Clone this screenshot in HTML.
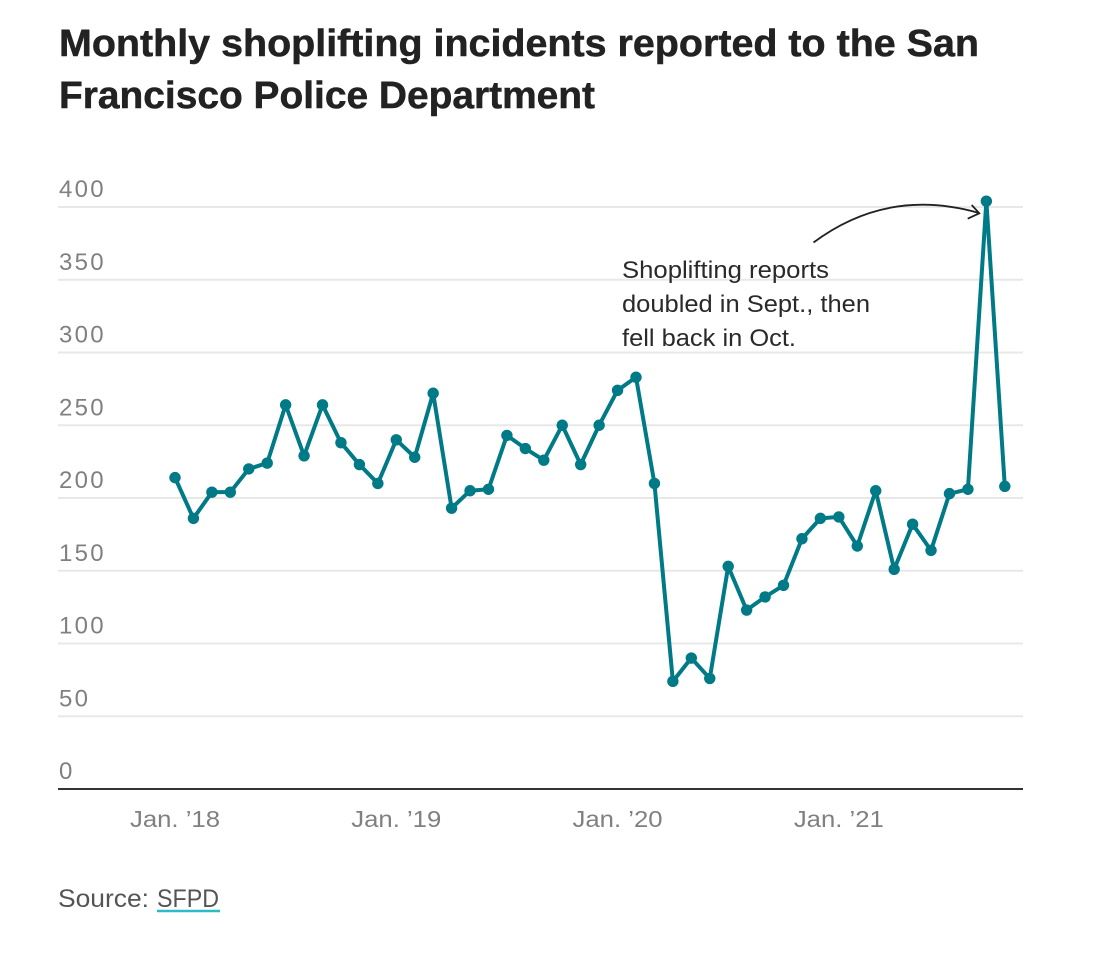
<!DOCTYPE html>
<html lang="en">
<head>
<meta charset="utf-8">
<title>Monthly shoplifting incidents</title>
<style>
html,body{margin:0;padding:0;background:#fff;width:1094px;height:966px;overflow:hidden}
svg{display:block}
text{font-family:"Liberation Sans",sans-serif}
</style>
</head>
<body>
<svg id="chart" width="1094" height="966" viewBox="0 0 1094 966" xmlns="http://www.w3.org/2000/svg">
  <text x="59" y="56" font-size="38" font-weight="700" fill="#222" stroke="#222" stroke-width="0.5" textLength="920" lengthAdjust="spacingAndGlyphs">Monthly shoplifting incidents reported to the San</text>
  <text x="59" y="108" font-size="38" font-weight="700" fill="#222" stroke="#222" stroke-width="0.5" textLength="536" lengthAdjust="spacingAndGlyphs">Francisco Police Department</text>
  <g id="grid"></g>
  <g id="y-labels"></g>
  <g id="x-labels"></g>
  <line x1="58" x2="1023" y1="789" y2="789" stroke="#333" stroke-width="2"></line>
  <path id="series-line" fill="none" stroke="#007a87" stroke-width="4" stroke-linejoin="round"></path>
  <g id="series-points"></g>
  <g>
    <text x="622" y="278" font-size="24" fill="#2a2a2a" textLength="207" lengthAdjust="spacingAndGlyphs">Shoplifting reports</text>
    <text x="622" y="312" font-size="24" fill="#2a2a2a" textLength="248" lengthAdjust="spacingAndGlyphs">doubled in Sept., then</text>
    <text x="622" y="346" font-size="24" fill="#2a2a2a" textLength="174" lengthAdjust="spacingAndGlyphs">fell back in Oct.</text>
    <path d="M813.5 242.5 Q888 187 979 213" fill="none" stroke="#222" stroke-width="1.8"></path>
    <path d="M971.7 205 L979.3 213.3 L967.7 218.7" fill="none" stroke="#222" stroke-width="1.8"></path>
  </g>
  <text x="58" y="907" font-size="25" fill="#555" textLength="91" lengthAdjust="spacingAndGlyphs">Source:</text>
  <text x="157" y="907" font-size="25" fill="#555" textLength="62" lengthAdjust="spacingAndGlyphs">SFPD</text>
  <line x1="157" x2="220" y1="911" y2="911" stroke="#29bcc4" stroke-width="2.4"></line>
</svg>
<script>
const yTicks = [0, 50, 100, 150, 200, 250, 300, 350, 400];
const xTickLabels = ["Jan. ’18", "Jan. ’19", "Jan. ’20", "Jan. ’21"];
const xTickMonths = [0, 12, 24, 36];
const incidents = [
  214, 186, 204, 204, 220, 224, 264, 229, 264, 238, 223, 210,
  240, 228, 272, 193, 205, 206, 243, 234, 226, 250, 223, 250,
  274, 283, 210, 74, 90, 76, 153, 123, 132, 140, 172, 186,
  187, 167, 205, 151, 182, 164, 203, 206, 404, 208
];

const SVG_NS = "http://www.w3.org/2000/svg";
function yScale(v) { return 789 - v * 1.455; }
function xScale(m) { return 175 + m * 18.44; }
function make(tag, attrs, parent, text) {
  const el = document.createElementNS(SVG_NS, tag);
  for (const k in attrs) el.setAttribute(k, attrs[k]);
  if (text !== undefined) el.textContent = text;
  parent.appendChild(el);
  return el;
}

const gridG = document.getElementById("grid");
const yLabelG = document.getElementById("y-labels");
yTicks.forEach(function (t) {
  if (t !== 0) {
    const ln = make("line", {x1: 58, x2: 1023, y1: yScale(t), y2: yScale(t), stroke: "#e8e8e8", "stroke-width": 2}, gridG);
    
    
  }
  const lab = make("text", {x: 59, y: yScale(t) - 10, "font-size": 24, fill: "#808080", "letter-spacing": 2.3}, yLabelG, String(t));
  
  
});

const xLabelG = document.getElementById("x-labels");
xTickLabels.forEach(function (s, i) {
  const lab = make("text", {x: xScale(xTickMonths[i]) - 45, y: 827, "font-size": 23, fill: "#808080", textLength: 90, lengthAdjust: "spacingAndGlyphs"}, xLabelG, s);
  
  
});

document.getElementById("series-line").setAttribute("d",
  incidents.map(function (v, i) { return (i ? "L" : "M") + xScale(i) + " " + yScale(v); }).join(" "));

const pointG = document.getElementById("series-points");
incidents.forEach(function (v, i) {
  const c = make("circle", {cx: xScale(i), cy: yScale(v), r: 5.7, fill: "#007a87"}, pointG);
  
  
});
</script>
</body>
</html>
